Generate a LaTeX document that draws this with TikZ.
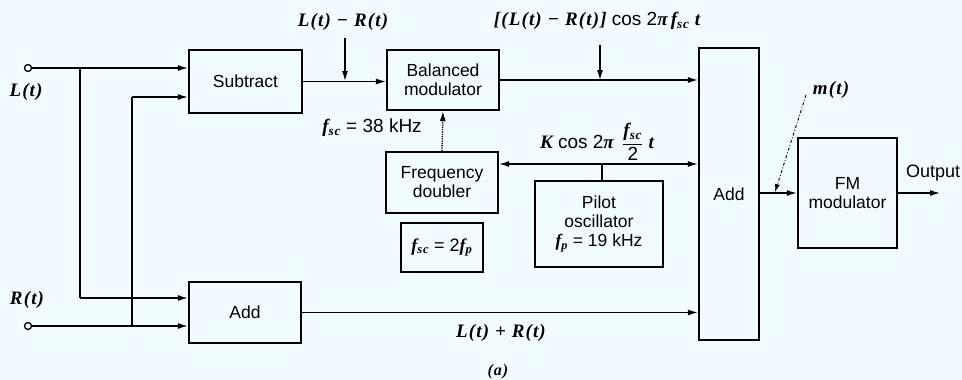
\documentclass[tikz,border=0pt]{standalone}
\usepackage{fontspec}
\setmainfont{Liberation Sans}
\newfontfamily\sigfam{Liberation Serif}[LetterSpace=6]
\newcommand{\sigtxt}[1]{{\sigfam\bfseries\itshape #1}}
\newcommand{\fsc}{\sigtxt{f}\textsubscript{\sigtxt{sc}}}
\usetikzlibrary{arrows.meta,calc}
\definecolor{paper}{RGB}{240,252,255}
\begin{document}
\begin{tikzpicture}[x=1pt,y=-1pt,
  blk/.style={draw,line width=2.2pt,inner sep=0pt,align=center,font=\fontsize{17.5}{19}\selectfont},
  sig/.style={line width=1.3pt},
  arr/.style={sig,-{Latex[length=10pt,width=6pt]}},
  lbl/.style={inner sep=0pt,font=\fontsize{19}{21}\selectfont},
  term/.style={circle,draw,line width=1.3pt,inner sep=0pt,minimum size=7pt,fill=paper}]
\fill[paper] (0,0) rectangle (962,380);
\useasboundingbox (0,0) rectangle (962,380);
% blocks
\node[blk,minimum width=113pt,minimum height=63pt] (sub) at (245.5,81.5) {Subtract};
\node[blk,minimum width=112pt,minimum height=60pt] (bm) at (443,80) {Balanced\\modulator};
\node[blk,minimum width=112pt,minimum height=61pt] (fd) at (442,182.5) {Frequency\\doubler};
\node[blk,minimum width=82pt,minimum height=49pt,font=\fontsize{18}{20}\selectfont] (fsc) at (442,247.5) {\fsc{} = 2\sigtxt{f}\textsubscript{\sigtxt{p}}};
\node[blk,minimum width=128pt,minimum height=86pt] (po) at (599,224) {Pilot\\oscillator\\\sigtxt{f}\textsubscript{\sigtxt{p}} = 19 kHz};
\node[blk,minimum width=112pt,minimum height=61pt] (addl) at (245,312.5) {Add};
\node[blk,minimum width=60pt,minimum height=292pt] (addb) at (729,194) {Add};
\node[blk,minimum width=99pt,minimum height=110pt] (fm) at (847.5,193) {FM\\modulator};
% terminals
\node[term] (lin) at (28,68) {};
\node[term] (rin) at (28,326) {};
\node[lbl] (llab) at (26,92) {\sigtxt{L(t)}};
\node[lbl] (rlab) at (27,300) {\sigtxt{R(t)}};
\coordinate (j1) at (80,68);
\coordinate (j2) at (132,326);
\coordinate (k1) at (80,298);
\coordinate (k2) at (132,97);
% input wiring
\draw[arr] (lin) -- (sub.west |- lin);
\draw[arr] (rin) -- (addl.west |- rin);
\draw[sig] (j1) -- (k1);
\draw[arr] (k1) -- (addl.west |- k1);
\draw[sig] (j2) -- (k2);
\draw[arr] (k2) -- (sub.west |- k2);
% subtract to balanced modulator
\draw[arr] (sub.east) -- (bm.west |- sub.east);
\coordinate (a1t) at (345,38);
\draw[arr] (a1t) -- (345,81);
\node[lbl] (l1) at (343,22) {\sigtxt{L(t) − R(t)}};
% balanced modulator to add
\draw[arr] (bm.east) -- (addb.west |- bm.east);
\coordinate (a2t) at (600,45);
\draw[arr] (a2t) -- (600,80);
\node[lbl] (l2) at (597,21) {\sigtxt{[(L(t) − R(t)]} cos 2\sigtxt{π}\,\fsc\ \sigtxt{t}};
% pilot line
\coordinate (pl) at (fd.east |- 0,164);
\coordinate (pr) at (addb.west |- 0,164);
\draw[sig,{Latex[length=10pt,width=6pt]}-{Latex[length=10pt,width=6pt]}] (pl) -- (pr);
\draw[sig] (po.north -| 602,0) -- (602,164);
\node[lbl] (l3) at (597,142) {\sigtxt{K} cos 2\sigtxt{π}\, $\displaystyle\frac{\mbox{\fsc}}{\mbox{2}}$\ \sigtxt{t}};
% doubler to modulator
\draw[arr,densely dotted] (fd.north) -- (bm.south);
\node[lbl] (l4) at (372,128) {\fsc{} = 38 kHz};
% sum path
\draw[arr] (addl.east) -- (addb.west |- addl.east);
\node[lbl] (l5) at (501,333) {\sigtxt{L(t) + R(t)}};
% add to FM
\draw[arr] (addb.east |- fm.west) -- (fm.west);
\coordinate (out) at (940,193);
\draw[arr] (fm.east) -- (out);
\node[lbl,anchor=west,font=\fontsize{18}{20}\selectfont] (l6) at (906,173) {Output};
% m(t) pointer
\node[lbl] (l7) at (831,90) {\sigtxt{m(t)}};
\coordinate (mt) at (775,192);
\draw[line width=0.9pt,dash dot,-{Latex[length=8pt,width=5pt]}] (806,95) -- (mt);
\node[lbl,font=\fontsize{16}{18}\selectfont] (l8) at (498,372) {\sigtxt{(a)}};
\end{tikzpicture}
\end{document}
